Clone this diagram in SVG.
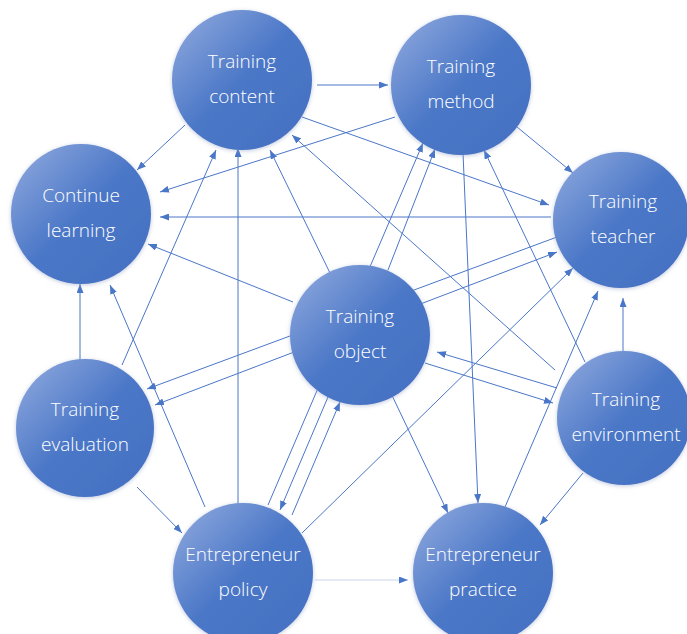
<svg xmlns="http://www.w3.org/2000/svg" width="687" height="634" viewBox="0 0 687 634">
<style>
.edge{stroke:#4a76c8;stroke-width:1;fill:none;marker-end:url(#arr)}
.both{marker-start:url(#arr)}
.faint{stroke:#c9d4ec}
.node circle{fill:url(#g);filter:url(#sh)}
.node text{font-family:"Open Sans","Noto Sans",sans-serif;font-weight:300;font-size:19px;fill:#ffffff;text-anchor:middle}
</style>
<defs>
<linearGradient id="g" x1="0" y1="0" x2="1" y2="1">
<stop offset="0" stop-color="#93acdf"/>
<stop offset="0.5" stop-color="#4b77c7"/>
<stop offset="1" stop-color="#4470c2"/>
</linearGradient>
<filter id="sh" x="-20%" y="-20%" width="140%" height="140%">
<feDropShadow dx="0" dy="1" stdDeviation="2" flood-color="#8e9fc4" flood-opacity="0.55"/>
</filter>
<marker id="arr" markerUnits="userSpaceOnUse" markerWidth="9" markerHeight="7" refX="9" refY="3.5" orient="auto-start-reverse">
<path d="M0,0 L9,3.5 L0,7 z" fill="#4a76c8"/>
</marker>
</defs>
<rect width="687" height="634" fill="#ffffff"/>
<g id="connectors">
<line class="edge" x1="317" y1="85" x2="388" y2="85"/>
<line class="edge" x1="185" y1="125" x2="137" y2="170"/>
<line class="edge" x1="302" y1="117" x2="549" y2="205"/>
<line class="edge" x1="395" y1="117" x2="160" y2="192"/>
<line class="edge" x1="517" y1="127" x2="573" y2="173"/>
<line class="edge" x1="463" y1="153" x2="478" y2="503"/>
<line class="edge" x1="551" y1="217" x2="160" y2="217"/>
<line class="edge" x1="557" y1="237" x2="147" y2="389"/>
<line class="edge both" x1="155" y1="405" x2="557" y2="252"/>
<line class="edge" x1="293" y1="302" x2="148" y2="244"/>
<line class="edge" x1="330" y1="273" x2="270" y2="150"/>
<line class="edge" x1="268" y1="505" x2="423" y2="143"/>
<line class="edge" x1="388" y1="270" x2="435" y2="149"/>
<line class="edge" x1="425" y1="363" x2="553" y2="403"/>
<line class="edge" x1="557" y1="388" x2="437" y2="352"/>
<line class="edge" x1="388" y1="387" x2="448" y2="513"/>
<line class="edge" x1="328" y1="397" x2="280" y2="510"/>
<line class="edge" x1="292" y1="515" x2="340" y2="402"/>
<line class="edge" x1="238" y1="505" x2="238" y2="148"/>
<line class="edge" x1="205" y1="507" x2="110" y2="285"/>
<line class="edge" x1="302" y1="533" x2="573" y2="268"/>
<line class="edge faint" x1="315" y1="580" x2="408" y2="580"/>
<line class="edge" x1="122" y1="365" x2="216" y2="150"/>
<line class="edge" x1="80" y1="362" x2="80" y2="284"/>
<line class="edge" x1="137" y1="487" x2="182" y2="533"/>
<line class="edge" x1="555" y1="370" x2="292" y2="135"/>
<line class="edge" x1="585" y1="362" x2="484" y2="150"/>
<line class="edge" x1="623" y1="352" x2="623" y2="298"/>
<line class="edge" x1="583" y1="473" x2="540" y2="525"/>
<line class="edge" x1="505" y1="507" x2="598" y2="291"/>
</g>
<g id="training-content" class="node"><circle cx="242" cy="80" r="70"/><text x="242" y="68">Training</text><text x="242" y="103">content</text></g>
<g id="training-method" class="node"><circle cx="461" cy="85" r="70"/><text x="461" y="73">Training</text><text x="461" y="108">method</text></g>
<g id="continue-learning" class="node"><circle cx="81" cy="214" r="70"/><text x="81" y="202">Continue</text><text x="81" y="237">learning</text></g>
<g id="training-teacher" class="node"><circle cx="621" cy="220" r="68"/><text x="623" y="208">Training</text><text x="623" y="243">teacher</text></g>
<g id="training-object" class="node"><circle cx="360" cy="335" r="70"/><text x="360" y="323">Training</text><text x="360" y="358">object</text></g>
<g id="training-evaluation" class="node"><circle cx="85" cy="428" r="69"/><text x="85" y="416">Training</text><text x="85" y="451">evaluation</text></g>
<g id="training-environment" class="node"><circle cx="624" cy="418" r="67"/><text x="626" y="406">Training</text><text x="626" y="441">environment</text></g>
<g id="entrepreneur-policy" class="node"><circle cx="243" cy="573" r="70"/><text x="243" y="561">Entrepreneur</text><text x="243" y="596">policy</text></g>
<g id="entrepreneur-practice" class="node"><circle cx="483" cy="573" r="70"/><text x="483" y="561">Entrepreneur</text><text x="483" y="596">practice</text></g>
</svg>
